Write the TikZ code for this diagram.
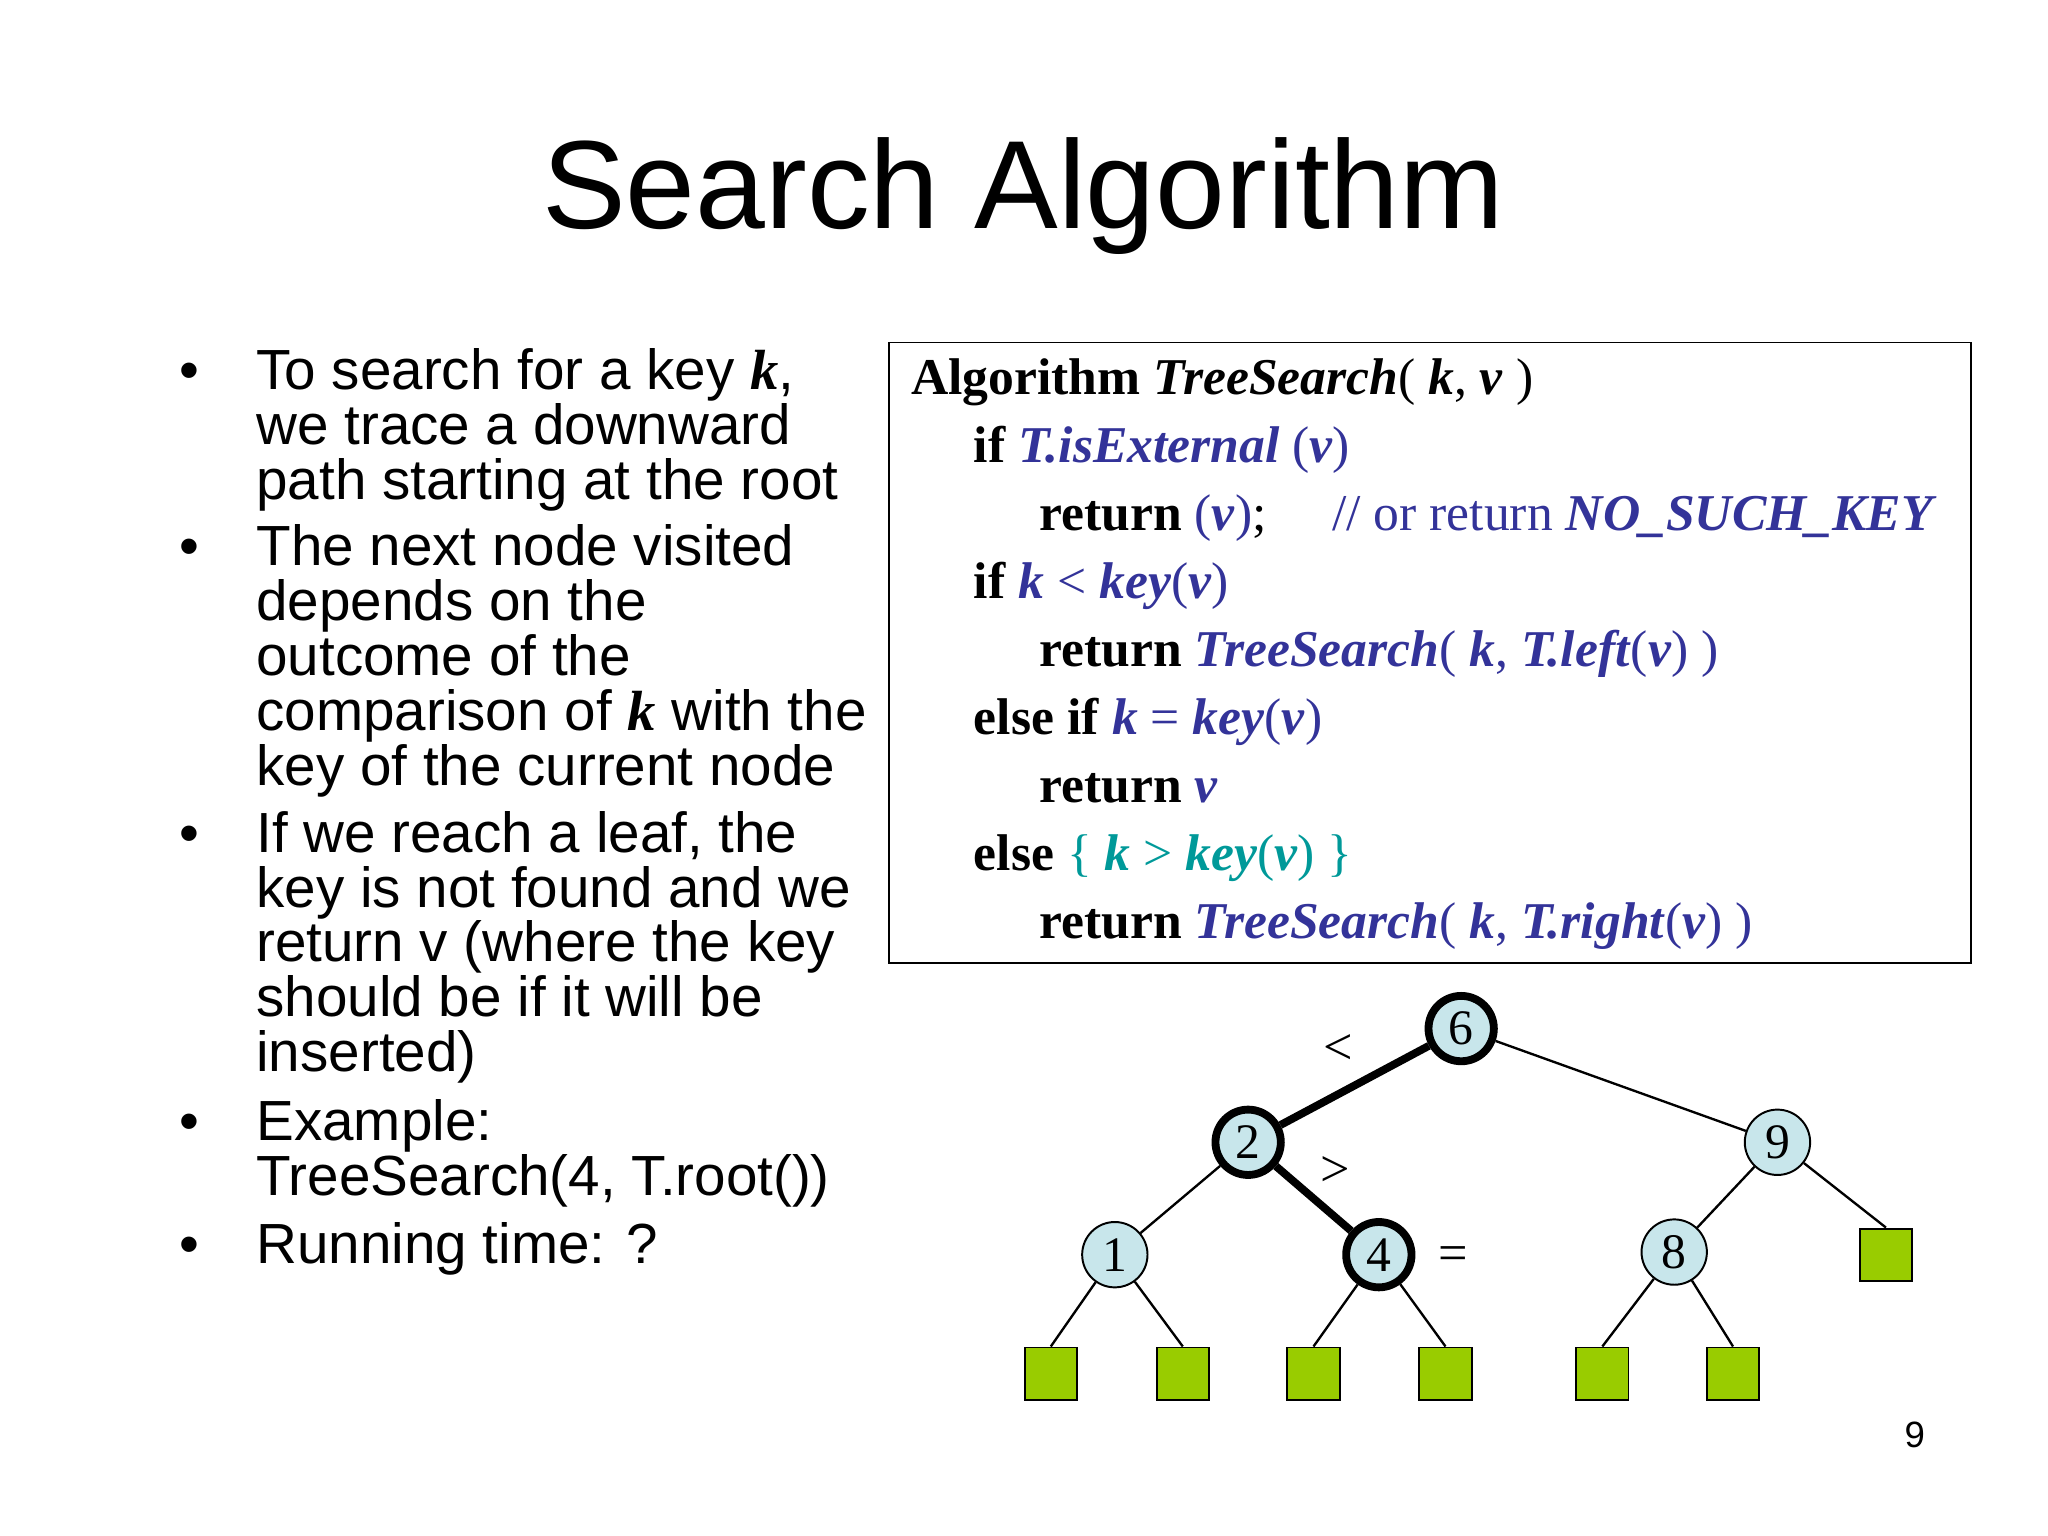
\documentclass[tikz,border=0pt]{standalone}
\usepackage{fontspec}
\setmainfont{Liberation Serif}
\setsansfont{Liberation Sans}
\begin{document}
\begin{tikzpicture}[x=1pt,y=-1pt,
  bl/.style={anchor=base west,font=\sffamily\fontsize{43.3}{43.3}\selectfont,inner sep=0},
  cd/.style={anchor=base west,font=\fontsize{39.5}{39.5}\selectfont,inner sep=0},
  inode/.style={circle,draw,fill=nodeblue,minimum size=50pt,inner sep=0,line width=1.5pt,font=\fontsize{38}{38}\selectfont},
  hnode/.style={inode,line width=6pt},
  leaf/.style={rectangle,draw,fill=leafgreen,minimum size=40pt,line width=1.5pt},
  ed/.style={line width=1.8pt},
  hed/.style={line width=6pt},
  lab/.style={font=\fontsize{40}{40}\selectfont}]
\definecolor{nodeblue}{RGB}{200,230,235}
\definecolor{leafgreen}{RGB}{153,204,0}
\definecolor{cblue}{RGB}{51,51,153}
\definecolor{cteal}{RGB}{0,153,153}
\useasboundingbox (0,0) rectangle (1567,1175);
\node[font=\sffamily\fontsize{96}{96}\selectfont] (title) at (783,150) {Search Algorithm};
% bullets
\foreach \y in {298,433,652,873,967} \node[bl] at (137,\y) {•};
\node[bl] (b1) at (196,298) {To search for a key \textbf{\textit{\rmfamily k}},};
\node[bl] at (196,340) {we trace a downward};
\node[bl] at (196,382) {path starting at the root};
\node[bl] at (196,433) {The next node visited};
\node[bl] at (196,475) {depends on the};
\node[bl] at (196,517) {outcome of the};
\node[bl] at (196,559) {comparison of \textbf{\textit{\rmfamily k}} with the};
\node[bl] at (196,601) {key of the current node};
\node[bl] at (196,652) {If we reach a leaf, the};
\node[bl] at (196,694) {key is not found and we};
\node[bl] at (196,736) {return v (where the key};
\node[bl] at (196,778) {should be if it will be};
\node[bl] at (196,820) {inserted)};
\node[bl] at (196,873) {Example:};
\node[bl] at (196,915) {TreeSearch(4, T.root())};
\node[bl] at (196,967) {Running time: ?};
% code box
\draw[line width=1.2pt] (680,262) rectangle (1508,737);
\node[cd] (c1) at (697,302) {\textbf{Algorithm} \textbf{\textit{TreeSearch}}( \textbf{\textit{k}}, \textbf{\textit{v}} )};
\node[cd] at (745,354) {\textbf{if} \textcolor{cblue}{\textbf{\textit{T.isExternal}} (\textbf{\textit{v}})}};
\node[cd] at (795,406) {\textbf{return} \textcolor{cblue}{(\textbf{\textit{v}})};\hspace{50pt}\textcolor{cblue}{// or return \textbf{\textit{NO\_SUCH\_KEY}}}};
\node[cd] at (745,458) {\textbf{if} \textcolor{cblue}{\textbf{\textit{k}} < \textbf{\textit{key}}(\textbf{\textit{v}})}};
\node[cd] at (795,510) {\textbf{return} \textcolor{cblue}{\textbf{\textit{TreeSearch}}( \textbf{\textit{k}}, \textbf{\textit{T.left}}(\textbf{\textit{v}}) )}};
\node[cd] at (745,562) {\textbf{else if} \textcolor{cblue}{\textbf{\textit{k}} = \textbf{\textit{key}}(\textbf{\textit{v}})}};
\node[cd] at (795,614) {\textbf{return} \textcolor{cblue}{\textbf{\textit{v}}}};
\node[cd] at (745,666) {\textbf{else} \textcolor{cteal}{\{ \textbf{\textit{k}} > \textbf{\textit{key}}(\textbf{\textit{v}}) \}}};
\node[cd] at (795,718) {\textbf{return} \textcolor{cblue}{\textbf{\textit{TreeSearch}}( \textbf{\textit{k}}, \textbf{\textit{T.right}}(\textbf{\textit{v}}) )}};
% tree
\node[hnode] (n6) at (1118,787) {6};
\node[hnode] (n2) at (955,874) {2};
\node[inode] (n9) at (1360,874) {9};
\node[inode] (n1) at (853,960) {1};
\node[hnode] (n4) at (1055,960) {4};
\node[inode] (n8) at (1281,958) {8};
\node[leaf] (l1) at (804,1051) {};
\node[leaf] (l2) at (905,1051) {};
\node[leaf] (l3) at (1005,1051) {};
\node[leaf] (l4) at (1106,1051) {};
\node[leaf] (l5) at (1226,1051) {};
\node[leaf] (l6) at (1326,1051) {};
\node[leaf] (l7) at (1443,960) {};
\draw[hed] (n6) -- (n2);
\draw[hed] (n2) -- (n4);
\draw[ed] (n6) -- (n9);
\draw[ed] (n2) -- (n1);
\draw[ed] (n1) -- (l1.north);
\draw[ed] (n1) -- (l2.north);
\draw[ed] (n4) -- (l3.north);
\draw[ed] (n4) -- (l4.north);
\draw[ed] (n9) -- (n8);
\draw[ed] (n9) -- (l7.north);
\draw[ed] (n8) -- (l5.north);
\draw[ed] (n8) -- (l6.north);
\node[lab] (lt) at (1024,803) {<};
\node[lab] (gt) at (1022,896) {>};
\node[lab] (eq) at (1112,963) {=};
\node[font=\sffamily\fontsize{28}{28}\selectfont] (pg) at (1465,1098) {9};
\end{tikzpicture}
\end{document}
